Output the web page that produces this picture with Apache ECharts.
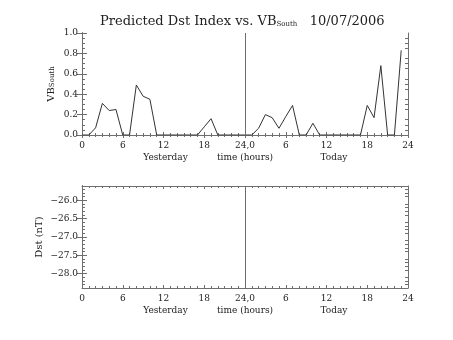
<!DOCTYPE html>
<html>
<head>
<meta charset="utf-8">
<script src="https://cdn.jsdelivr.net/npm/echarts@6/dist/echarts.min.js"></script>
<style>
  html, body { margin: 0; padding: 0; background: #fff; }
  #chart { width: 453px; height: 340px; }
</style>
</head>
<body>
<div id="chart"></div>
<script>
// Hourly VB_South, yesterday (hours 0-23) followed by today (hours 24-47)
const hours = [
  0, 1, 2, 3, 4, 5, 6, 7, 8, 9, 10, 11,
  12, 13, 14, 15, 16, 17, 18, 19, 20, 21, 22, 23,
  24, 25, 26, 27, 28, 29, 30, 31, 32, 33, 34, 35,
  36, 37, 38, 39, 40, 41, 42, 43, 44, 45, 46, 47
];
const vbSouth = [
  0, 0, 0.07, 0.31, 0.24, 0.25, 0, 0, 0.49, 0.38, 0.35, 0,
  0, 0, 0, 0, 0, 0, 0.08, 0.16, 0, 0, 0, 0,
  0, 0, 0.066, 0.20, 0.17, 0.066, 0.18, 0.29, 0, 0, 0.115, 0,
  0, 0, 0, 0, 0, 0, 0.29, 0.17, 0.68, 0, 0, 0.83
];
// Predicted Dst: no values available for this window
const dstPredicted = [];

// Time axis ticks (two days on one axis, 6-hour steps)
const timeTickValues = [0, 6, 12, 18, 24, 30, 36, 42, 48];
const timeTickLabels = ['0', '6', '12', '18', '24,0', '6', '12', '18', '24'];
// Captions under the time axis and where they sit (in hours)
const captionHours = [12.3, 24, 37.1];
const captionTexts = ['Yesterday', 'time (hours)', 'Today'];

// VB axis ticks
const vbTickValues = [0, 0.2, 0.4, 0.6, 0.8, 1.0];

// Dst axis ticks
const dstMajorTicks = [-26.0, -26.5, -27.0, -27.5, -28.0];
const dstMin = -28.39, dstMax = -25.61;

const dstMinorTicks = [];
for (let v = -28.3; v <= -25.65; v += 0.1) {
  const r = Math.round(v * 10) / 10;
  if (Math.abs(r * 2 - Math.round(r * 2)) > 1e-6) dstMinorTicks.push(r);
}
const vbMinorTicks = [];
for (let k = 1; k < 20; k++) {
  if (k % 4 !== 0) vbMinorTicks.push(k * 0.05);
}

const FONT = 'DejaVu Serif';
const AX = '#6e6e6e';
const TXT = '#222';

function timeLabel(v) {
  const i = timeTickValues.indexOf(v);
  return i >= 0 ? timeTickLabels[i] : '';
}
function captionLabel(v) {
  const i = captionHours.findIndex(h => Math.abs(h - v) < 1e-6);
  return i >= 0 ? captionTexts[i] : '';
}
function fmtNum(v) {
  return v.toFixed(1).replace('-', '\u2212');
}

// Time axis carrying only the tick marks, drawn pointing into the plot
function timeTicks(gridIndex, position) {
  return {
    type: 'value', gridIndex, position, min: 0, max: 48, interval: 6,
    axisLine: { show: true, lineStyle: { color: AX, width: 1 } },
    axisTick: { show: true, inside: true, length: 3, lineStyle: { color: AX } },
    minorTick: { show: true, splitNumber: 6, length: 2, lineStyle: { color: AX } },
    splitLine: { show: false },
    axisLabel: { show: false }
  };
}
// Time axis carrying only the hour labels
function timeLabels(gridIndex) {
  return {
    type: 'value', gridIndex, position: 'bottom', min: 0, max: 48, interval: 6,
    axisLine: { show: false }, axisTick: { show: false }, splitLine: { show: false },
    axisLabel: {
      margin: 6, color: TXT, fontFamily: FONT, fontSize: 9,
      formatter: timeLabel, hideOverlap: false, showMinLabel: true, showMaxLabel: true
    }
  };
}
function captionAxis(gridIndex) {
  return {
    type: 'value', gridIndex, position: 'bottom', min: 0, max: 48,
    axisLine: { show: false }, axisTick: { show: false }, splitLine: { show: false },
    axisLabel: {
      customValues: captionHours, formatter: captionLabel, margin: 18,
      color: TXT, fontFamily: FONT, fontSize: 9, showMinLabel: true, showMaxLabel: true
    }
  };
}
function tickOnly(gridIndex, position, min, max, values, len) {
  return {
    type: 'value', gridIndex, position, min, max,
    axisLine: { show: true, lineStyle: { color: AX } },
    axisTick: { show: true, inside: true, length: len, customValues: values, lineStyle: { color: AX } },
    splitLine: { show: false }, axisLabel: { show: false }
  };
}

const option = {
  animation: false,
  backgroundColor: '#fff',
  title: {
    left: 100, top: 12, padding: 0,
    text: '{a|Predicted Dst Index vs. VB}{s|South}{a|   10/07/2006}',
    textStyle: {
      fontWeight: 'normal',
      rich: {
        a: { fontFamily: FONT, fontSize: 13, fontWeight: 'normal', color: TXT, lineHeight: 16, verticalAlign: 'bottom' },
        s: { fontFamily: FONT, fontSize: 7, fontWeight: 'normal', color: TXT, lineHeight: 16, verticalAlign: 'bottom', padding: [9, 0, 0, 0] }
      }
    }
  },
  grid: [
    { left: 82, right: 45, top: 33, height: 102 },
    { left: 82, right: 45, top: 186, height: 102 }
  ],
  xAxis: [
    timeTicks(0, 'bottom'),
    timeTicks(0, 'top'),
    timeTicks(1, 'bottom'),
    timeTicks(1, 'top'),
    timeLabels(0),
    timeLabels(1),
    captionAxis(0),
    captionAxis(1)
  ],
  yAxis: [
    {
      type: 'value', gridIndex: 0, position: 'left', min: 0, max: 1, interval: 0.2,
      name: '{a|VB}{s|South}', nameLocation: 'middle', nameRotate: 90, nameGap: 26,
      nameMoveOverlap: false,
      nameTextStyle: {
        rich: {
          a: { fontFamily: FONT, fontSize: 10, color: TXT, lineHeight: 12, verticalAlign: 'bottom' },
          s: { fontFamily: FONT, fontSize: 7, color: TXT, lineHeight: 12, verticalAlign: 'bottom', padding: [7, 0, 0, 0] }
        }
      },
      axisLine: { show: true, lineStyle: { color: AX } },
      axisTick: { show: false },
      splitLine: { show: false },
      axisLabel: { margin: 4, color: TXT, fontFamily: FONT, fontSize: 9, formatter: v => v.toFixed(1) }
    },
    tickOnly(0, 'left', 0, 1, vbTickValues, 5),
    tickOnly(0, 'left', 0, 1, vbMinorTicks, 3),
    tickOnly(0, 'right', 0, 1, vbTickValues, 5),
    tickOnly(0, 'right', 0, 1, vbMinorTicks, 3),
    {
      type: 'value', gridIndex: 1, position: 'left', min: dstMin, max: dstMax,
      name: 'Dst (nT)', nameLocation: 'middle', nameRotate: 90, nameGap: 38,
      nameMoveOverlap: false,
      nameTextStyle: { fontFamily: FONT, fontSize: 10, color: TXT },
      axisLine: { show: true, lineStyle: { color: AX } },
      axisTick: { show: false },
      splitLine: { show: false },
      axisLabel: { margin: 4, color: TXT, fontFamily: FONT, fontSize: 9, customValues: dstMajorTicks, formatter: fmtNum }
    },
    tickOnly(1, 'left', dstMin, dstMax, dstMajorTicks, 5),
    tickOnly(1, 'left', dstMin, dstMax, dstMinorTicks, 3),
    tickOnly(1, 'right', dstMin, dstMax, dstMajorTicks, 5),
    tickOnly(1, 'right', dstMin, dstMax, dstMinorTicks, 3)
  ],
  series: [
    {
      type: 'line', xAxisIndex: 0, yAxisIndex: 0,
      data: hours.map((h, i) => [h, vbSouth[i]]),
      showSymbol: false, lineStyle: { color: '#333', width: 1 }, z: 3,
      markLine: {
        silent: true, symbol: 'none', label: { show: false },
        lineStyle: { color: AX, width: 1, type: 'solid' },
        data: [{ xAxis: 24 }]
      }
    },
    {
      type: 'line', xAxisIndex: 2, yAxisIndex: 5,
      data: dstPredicted,
      showSymbol: false, lineStyle: { color: '#333', width: 1 },
      markLine: {
        silent: true, symbol: 'none', label: { show: false },
        lineStyle: { color: AX, width: 1, type: 'solid' },
        data: [{ xAxis: 24 }]
      }
    }
  ]
};

const chart = echarts.init(document.getElementById('chart'), null, { renderer: 'canvas' });
chart.setOption(option);
</script>
</body>
</html>
